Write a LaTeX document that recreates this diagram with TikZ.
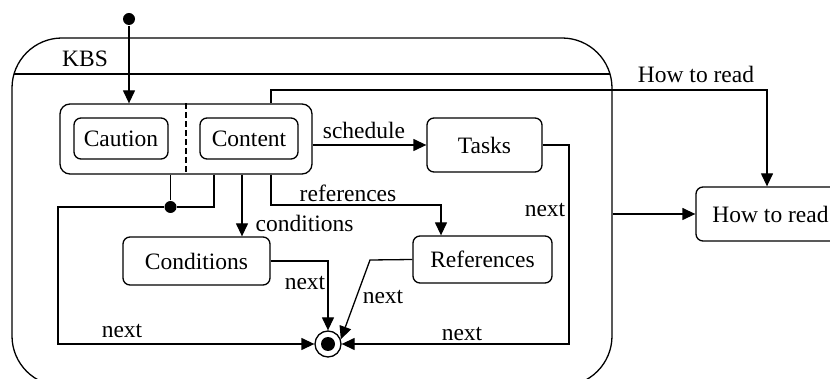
\documentclass[tikz,border=0pt]{standalone}
\usepackage{fontspec}
\setmainfont{Liberation Serif}
\usetikzlibrary{arrows.meta}
\begin{document}
\begin{tikzpicture}[x=1pt,y=-1pt,line width=1.3pt,
  font=\fontsize{23.5}{27}\selectfont,
  arr/.style={-{Triangle[length=13pt,width=12pt]}},
  state/.style={draw,rounded corners=7pt,inner sep=0pt},
  lbl/.style={inner sep=0pt}]
\useasboundingbox (0,0) rectangle (830,379);
% outer composite state
\node[draw,rounded corners=50pt,minimum width=600pt,minimum height=348pt,inner sep=0pt] (kbs) at (312,212) {};
\coordinate (sepl) at (14,74);
\coordinate (sepr) at (610,74);
\draw (sepl) -- (sepr);
\node[lbl] (kbslbl) at (85,59) {KBS};
% initial
\node[circle,fill,minimum size=12pt,inner sep=0pt] (init) at (129,19) {};
% concurrent state
\node[state,rounded corners=10pt,minimum width=252pt,minimum height=70pt] (comp) at (186,139) {};
\draw[dash pattern=on 6pt off 3pt] (comp.north) -- (comp.south);
\node[state,minimum width=94pt,minimum height=41pt] (caution) at (121,138.5) {Caution};
\node[state,minimum width=98pt,minimum height=41pt] (content) at (249,138.5) {Content};
% other states
\node[state,minimum width=115pt,minimum height=54pt] (tasks) at (484.5,145) {Tasks};
\node[state,minimum width=147pt,minimum height=48pt] (cond) at (196.5,261) {Conditions};
\node[state,minimum width=139pt,minimum height=47pt] (refs) at (482.5,259.5) {References};
\node[state,minimum width=149pt,minimum height=54pt] (howto) at (770.5,214) {How to read};
% final
\node[circle,draw,minimum size=26pt,inner sep=0pt] (final) at (328,344) {};
\node[circle,fill,minimum size=14pt,inner sep=0pt] (finaldot) at (328,344) {};
% junction
\node[circle,fill,minimum size=12pt,inner sep=0pt] (junc) at (170.5,207) {};
% connectors
\draw[arr] (init) -- (init |- comp.north);
\draw (comp.south -| junc) -- (junc);
\coordinate (jr) at (214,207);
\draw (comp.south -| jr) -- (jr) -- (junc);
\coordinate (jl) at (58,207);
\draw[arr] (junc) -- (jl) |- (final.west);
\node[lbl] (n1) at (122,331) {next};
\coordinate (cx) at (242,200);
\draw[arr] (comp.south -| cx) -- (cond.north -| cx);
\node[lbl,anchor=west] (condlbl) at (255,223) {conditions};
\coordinate (rx) at (271,205);
\coordinate (ry) at (441,205);
\draw[arr] (comp.south -| rx) -- (rx) -- (ry) -- (refs.north -| ry);
\node[lbl] (reflbl) at (348,193) {references};
\draw[arr] (comp.east |- tasks.west) -- (tasks.west);
\node[lbl] (schedlbl) at (364,130) {schedule};
\coordinate (tk) at (569,344);
\draw[arr] (tasks.east) -| (tk) -- (final.east);
\node[lbl] (n2) at (545,210) {next};
\node[lbl] (n3) at (462,334) {next};
\draw[arr] (cond.east) -| (final.north);
\node[lbl] (n4) at (305,283) {next};
\coordinate (rb) at (370,260);
\draw[arr] (refs.west) -- (rb) -- (final.20);
\node[lbl] (n5) at (383,297) {next};
\coordinate (h1) at (271,90);
\coordinate (h2) at (767,90);
\draw[arr] (comp.north -| h1) -- (h1) -- (h2) -- (howto.north -| h2);
\node[lbl] (howlbl) at (696,74) {How to read};
\draw[arr] (kbs.east |- howto.west) -- (howto.west);
\end{tikzpicture}
\end{document}
